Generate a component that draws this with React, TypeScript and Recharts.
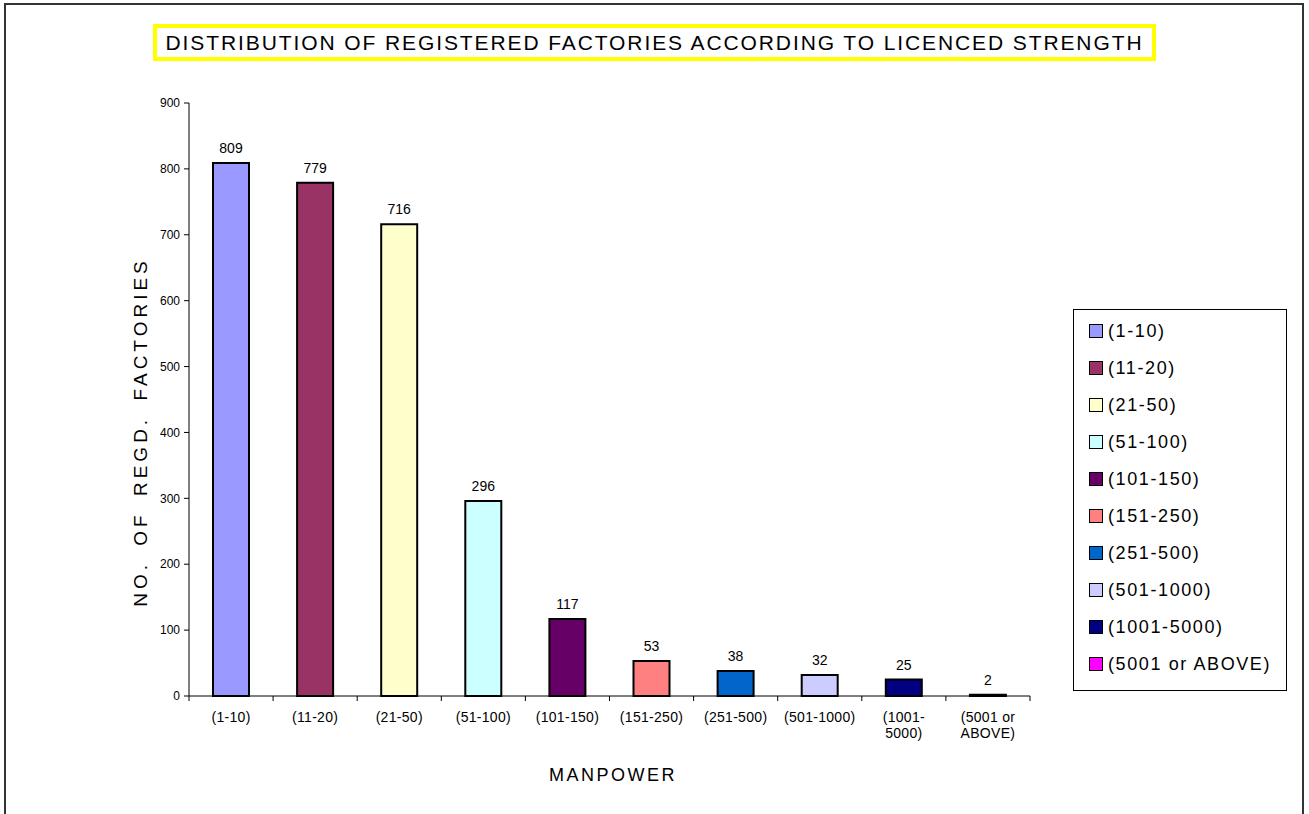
import React from 'react';
import { BarChart, Bar, XAxis, YAxis, Cell, LabelList } from 'recharts';

const categories = ['(1-10)', '(11-20)', '(21-50)', '(51-100)', '(101-150)', '(151-250)', '(251-500)', '(501-1000)', '(1001-5000)', '(5001 or ABOVE)'];
const tickLabels = [['(1-10)'], ['(11-20)'], ['(21-50)'], ['(51-100)'], ['(101-150)'], ['(151-250)'], ['(251-500)'], ['(501-1000)'], ['(1001-', '5000)'], ['(5001 or', 'ABOVE)']];
const factories = [809, 779, 716, 296, 117, 53, 38, 32, 25, 2];
const colors = ['#9999FF', '#993366', '#FFFFCC', '#CCFFFF', '#660066', '#FF8080', '#0066CC', '#CCCCFF', '#000080', '#FF00FF'];
const yTicks = [0, 100, 200, 300, 400, 500, 600, 700, 800, 900];

const data = categories.map((c, i) => ({ name: c, value: factories[i], idx: i }));

const FONT = '"Liberation Sans", Arial, sans-serif';
const TICK_SIZE = 5;
const TICK_MARGIN = 11;

const CatTick = (props: any) => {
  const { x, y, payload, width, visibleTicksCount, index } = props;
  const i = typeof payload?.index === 'number' ? payload.index : index;
  const band = width / visibleTicksCount;
  const axisY = y - TICK_SIZE - TICK_MARGIN;
  const lines = tickLabels[i] || [String(payload.value)];
  return (
    <g>
      <line x1={x - band / 2} x2={x - band / 2} y1={axisY} y2={axisY + TICK_SIZE} stroke="#000" strokeWidth={1} />
      {i === visibleTicksCount - 1 && (
        <line x1={x + band / 2} x2={x + band / 2} y1={axisY} y2={axisY + TICK_SIZE} stroke="#000" strokeWidth={1} />
      )}
      <text x={x} y={y} textAnchor="middle" fontSize={14} letterSpacing={0.3} fontFamily={FONT} fill="#000">
        {lines.map((l, k) => (
          <tspan key={k} x={x} dy={k === 0 ? '0.71em' : 16}>{l}</tspan>
        ))}
      </text>
    </g>
  );
};

export default function App() {
  return (
    <div style={{ position: 'absolute', left: 0, top: 0, width: 1309, height: 814, background: '#fff', overflow: 'hidden', fontFamily: FONT }}>
      <div style={{ position: 'absolute', left: 4, top: 3, width: 1300, height: 900, border: '2px solid #333', boxSizing: 'border-box' }} />
      <div style={{ position: 'absolute', left: 0, top: 0 }}>
        <BarChart width={1309} height={814} data={data} margin={{ top: 103, right: 279, bottom: 58, left: 129 }} barSize={36}>
          <XAxis
            dataKey="name"
            height={60}
            interval={0}
            tickLine={false}
            tickSize={TICK_SIZE}
            tickMargin={TICK_MARGIN}
            axisLine={{ stroke: '#000', strokeWidth: 1 }}
            tick={<CatTick />}
          />
          <YAxis
            width={60}
            domain={[0, 900]}
            ticks={yTicks}
            interval={0}
            tickSize={5}
            tickMargin={4}
            tickLine={{ stroke: '#000' }}
            axisLine={{ stroke: '#000', strokeWidth: 1 }}
            tick={{ fontSize: 12, fill: '#000', fontFamily: FONT }}
          />
          <Bar dataKey="value" isAnimationActive={false} stroke="#000" strokeWidth={2}>
            {data.map((d, i) => (
              <Cell key={i} fill={colors[i]} />
            ))}
            <LabelList dataKey="value" position="top" offset={10} fontSize={14} fill="#000" fontFamily={FONT} />
          </Bar>
        </BarChart>
      </div>
      {/* Title */}
      <div style={{ position: 'absolute', left: 153, top: 24, width: 1003, height: 37, border: '4px solid #FFFF00', boxSizing: 'border-box', display: 'flex', alignItems: 'center', justifyContent: 'center', fontSize: 21, letterSpacing: 1.9, color: '#000', whiteSpace: 'nowrap' }}>
        DISTRIBUTION OF REGISTERED FACTORIES ACCORDING TO LICENCED STRENGTH
      </div>
      {/* Y axis label */}
      <div style={{ position: 'absolute', left: 141, top: 432, width: 0, height: 0 }}>
        <div style={{ position: 'absolute', left: 0, top: 0, transform: 'translate(-50%, -50%) rotate(-90deg)', fontSize: 19, letterSpacing: 4, wordSpacing: 6, whiteSpace: 'nowrap', color: '#000' }}>
          NO. OF REGD. FACTORIES
        </div>
      </div>
      {/* X axis label */}
      <div style={{ position: 'absolute', left: 613, top: 775, transform: 'translate(-50%, -50%)', fontSize: 18, letterSpacing: 2.5, whiteSpace: 'nowrap', color: '#000' }}>
        MANPOWER
      </div>
      {/* Legend */}
      <div style={{ position: 'absolute', left: 1073, top: 309, width: 214, height: 382, border: '1px solid #000', boxSizing: 'border-box', background: '#fff' }}>
        {categories.map((c, i) => (
          <div key={c} style={{ position: 'absolute', left: 15, top: 21 - 11 + i * 37, height: 22, display: 'flex', alignItems: 'center', whiteSpace: 'nowrap' }}>
            <span style={{ display: 'inline-block', width: 14, height: 14, background: colors[i], border: '1.5px solid #000', boxSizing: 'border-box', marginRight: 5 }} />
            <span style={{ fontSize: 18, letterSpacing: 1.6, color: '#000' }}>{c}</span>
          </div>
        ))}
      </div>
    </div>
  );
}
